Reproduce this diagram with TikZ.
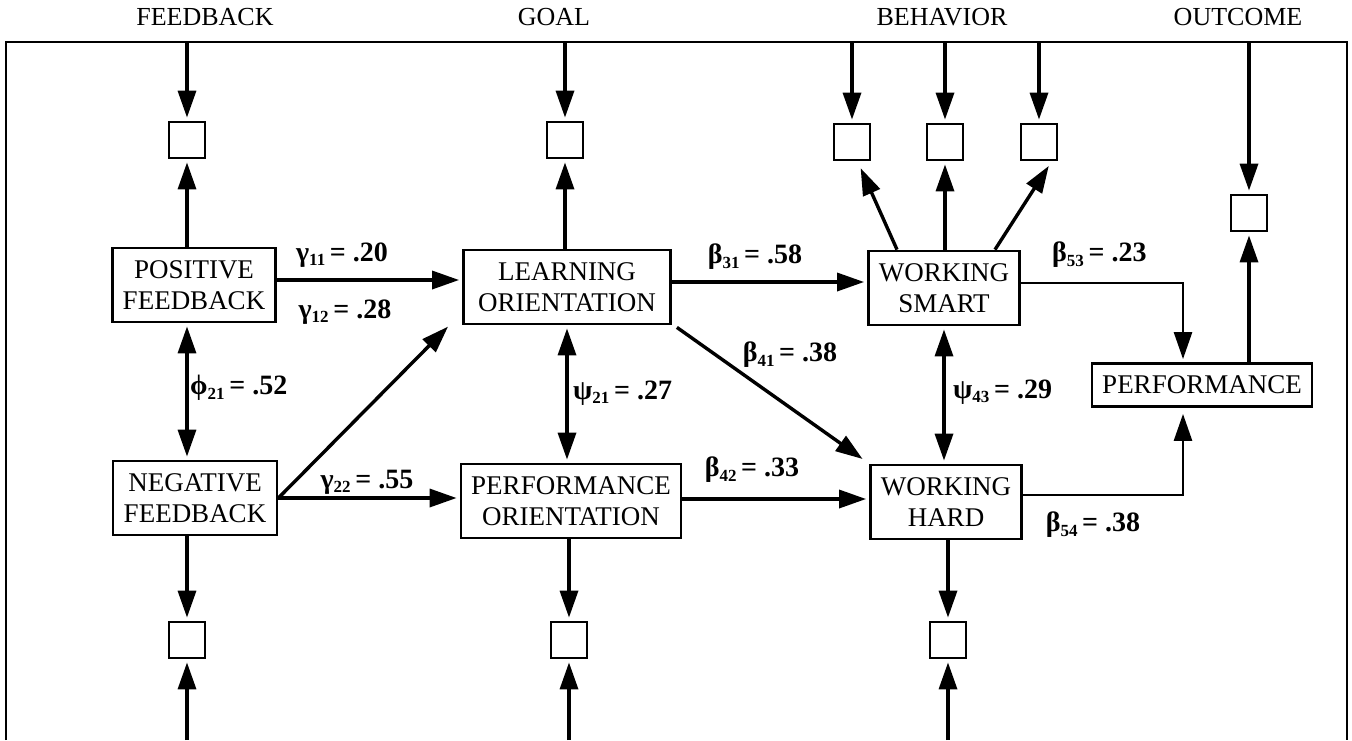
\documentclass[tikz,border=0pt]{standalone}
\usepackage{fontspec}
\setmainfont{Liberation Serif}
\usetikzlibrary{arrows.meta}

\newcommand{\lsub}[1]{\raisebox{-0.35ex}{\fontsize{17}{17}\selectfont #1}}

\tikzset{
  box/.style={draw, line width=2.8pt, align=center, font=\fontsize{27}{31}\selectfont, inner sep=2pt, minimum height=74pt},
  item/.style={draw, line width=2.8pt, minimum size=36pt, inner sep=0pt},
  head/.style={font=\fontsize{26}{28}\selectfont},
  coef/.style={font=\bfseries\fontsize{28}{30}\selectfont, inner sep=0pt},
  arr/.style={-{Triangle[length=27pt,width=18pt]}, line width=3.4pt, shorten >=3pt},
  darr/.style={{Triangle[length=27pt,width=18pt]}-{Triangle[length=27pt,width=18pt]}, line width=3.4pt, shorten >=3pt, shorten <=3pt},
  frame/.style={line width=2.8pt}
}

\begin{document}
\begin{tikzpicture}[x=1pt, y=-1pt]
  \useasboundingbox (0,0) rectangle (1352,740);

  % headings and frame
  \node[head] at (205,17) (h-feedback) {FEEDBACK};
  \node[head] at (554,17) (h-goal) {GOAL};
  \node[head] at (942,17) (h-behavior) {BEHAVIOR};
  \node[head] at (1238,17) (h-outcome) {OUTCOME};

  \coordinate (tl) at (6,42);
  \coordinate (tr) at (1347,42);
  \coordinate (bl) at (6,740);
  \coordinate (br) at (1347,740);
  \draw[frame] (bl) -- (tl) -- (tr) -- (br);

  % constructs
  \node[box, minimum width=163pt] at (194,285) (pos) {POSITIVE\\FEEDBACK};
  \node[box, minimum width=164pt] at (195,498) (neg) {NEGATIVE\\FEEDBACK};
  \node[box, minimum width=207pt] at (567,287) (learn) {LEARNING\\ORIENTATION};
  \node[box, minimum width=220pt] at (571,501) (perf) {PERFORMANCE\\ORIENTATION};
  \node[box, minimum width=151pt] at (944,288) (smart) {WORKING\\SMART};
  \node[box, minimum width=151pt] at (946,502) (hard) {WORKING\\HARD};
  \node[box, minimum width=220pt, minimum height=43pt] at (1202,385) (perfm) {PERFORMANCE};

  % indicators
  \node[item] at (187,140) (fb1) {};
  \node[item] at (565,140) (g1) {};
  \node[item] at (852,142) (b1) {};
  \node[item] at (945,142) (b2) {};
  \node[item] at (1039,142) (b3) {};
  \node[item] at (1249,213) (o1) {};
  \node[item] at (187,640) (fb2) {};
  \node[item] at (569,640) (g2) {};
  \node[item] at (948,640) (b4) {};

  % frame to indicators
  \draw[arr] (tl -| fb1) -- (fb1);
  \draw[arr] (tl -| g1) -- (g1);
  \draw[arr] (tl -| b1) -- (b1);
  \draw[arr] (tl -| b2) -- (b2);
  \draw[arr] (tl -| b3) -- (b3);
  \draw[arr] (tl -| o1) -- (o1);
  \draw[arr] (bl -| fb2) -- (fb2);
  \draw[arr] (bl -| g2) -- (g2);
  \draw[arr] (bl -| b4) -- (b4);

  % constructs to indicators
  \draw[arr] (pos.north -| fb1) -- (fb1);
  \draw[arr] (neg.south -| fb2) -- (fb2);
  \draw[arr] (learn.north -| g1) -- (g1);
  \draw[arr] (perf.south -| g2) -- (g2);
  \draw[arr] ([xshift=-47pt]smart.north) -- ([xshift=-12pt,yshift=-4pt]b1.south east);
  \draw[arr] (smart.north -| b2) -- (b2);
  \draw[arr] ([xshift=51pt]smart.north) -- ([xshift=-8pt,yshift=-2pt]b3.south east);
  \draw[arr] (hard.south -| b4) -- (b4);
  \draw[arr] (perfm.north -| o1) -- (o1);

  % structural paths
  \draw[darr] (pos.south -| fb1) -- (neg.north -| fb1);
  \draw[arr] ([yshift=5pt]pos.east) -- ([yshift=5pt]pos.east -| learn.west);
  \draw[arr, shorten >=20pt] (neg.east) -- ([yshift=13pt]learn.south west);
  \draw[arr] (neg.east) -- (neg.east -| perf.west);
  \draw[darr] (learn.south) -- (learn.south |- perf.north);
  \draw[arr] ([yshift=5pt]learn.east) -- ([yshift=5pt]learn.east -| smart.west);
  \draw[arr, shorten >=8pt] ([xshift=5pt,yshift=-2pt]learn.south east) -- (hard.north west);
  \draw[arr] ([yshift=2pt]perf.east) -- ([yshift=2pt]perf.east -| hard.west);
  \draw[darr] (smart.south) -- (smart.south |- hard.north);
  \draw[arr, line width=2.6pt] ([yshift=5pt]smart.east) -| ([xshift=-19pt]perfm.north);
  \draw[arr, line width=2.6pt] ([yshift=7pt]hard.east) -| ([xshift=-19pt,yshift=-3pt]perfm.south);

  % estimates
  \node[coef] at (342,255) (g11) {γ\lsub{11}\,= .20};
  \node[coef] at (345,312) (g12) {γ\lsub{12}\,= .28};
  \node[coef, anchor=west] at (190,388) (p21) {ϕ\lsub{21}\,= .52};
  \node[coef] at (367,482) (g22) {γ\lsub{22}\,= .55};
  \node[coef] at (755,257) (b31) {β\lsub{31}\,= .58};
  \node[coef] at (790,355) (b41) {β\lsub{41}\,= .38};
  \node[coef, anchor=west] at (573,393) (s21) {ψ\lsub{21}\,= .27};
  \node[coef] at (752,470) (b42) {β\lsub{42}\,= .33};
  \node[coef, anchor=west] at (953,392) (s43) {ψ\lsub{43}\,= .29};
  \node[coef, anchor=west] at (1052,255) (b53) {β\lsub{53}\,= .23};
  \node[coef] at (1093,525) (b54) {β\lsub{54}\,= .38};
\end{tikzpicture}
\end{document}
